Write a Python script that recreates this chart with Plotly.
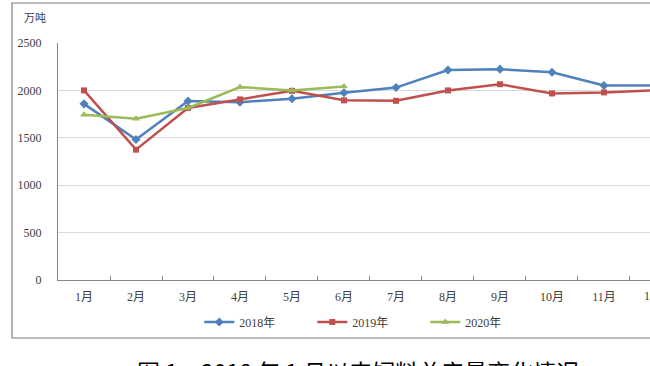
import plotly.graph_objects as go

months = ["1月", "2月", "3月", "4月", "5月", "6月", "7月", "8月", "9月", "10月", "11月", "12月"]
y2018 = [1858, 1482, 1887, 1876, 1912, 1975, 2030, 2215, 2224, 2192, 2052, 2052]
y2019 = [2000, 1375, 1815, 1905, 1995, 1895, 1890, 2000, 2065, 1968, 1979, 2003]
y2020 = [1744, 1702, 1814, 2035, 2000, 2040]
yticks = [0, 500, 1000, 1500, 2000, 2500]

FONT = "Liberation Serif, Noto Sans CJK SC, serif"

fig = go.Figure()
fig.add_trace(go.Scatter(x=months, y=y2018, name="2018年", mode="lines+markers",
                         line=dict(color="#4f81bd", width=2.5),
                         marker=dict(symbol="diamond", size=7, color="#4f81bd")))
fig.add_trace(go.Scatter(x=months, y=y2019, name="2019年", mode="lines+markers",
                         line=dict(color="#c0504d", width=2.5),
                         marker=dict(symbol="square", size=6, color="#c0504d")))
fig.add_trace(go.Scatter(x=months[:len(y2020)], y=y2020, name="2020年", mode="lines+markers",
                         line=dict(color="#9bbb59", width=2.5),
                         marker=dict(symbol="triangle-up", size=7, color="#9bbb59")))

fig.update_layout(
    width=650, height=366,
    margin=dict(l=58, r=0, t=43, b=86),
    paper_bgcolor="white", plot_bgcolor="white",
    font=dict(family=FONT, size=12, color="#404040"),
    showlegend=True,
    legend=dict(orientation="h", x=0.525, y=-0.177, xanchor="center", yanchor="middle",
                font=dict(size=12, color="#404040"), entrywidth=68, itemwidth=30),
    xaxis=dict(type="category", categoryorder="array", categoryarray=months,
               range=[-0.5, 10.885], showline=True, linecolor="#868686", linewidth=1,
               ticks="inside", ticklen=4, tickcolor="#868686", tickson="boundaries",
               showgrid=False, tickfont=dict(size=12, family=FONT, color="#404040"),
               ticklabelstandoff=6),
    yaxis=dict(range=[0, 2500], tickvals=yticks, showline=True, linecolor="#868686",
               linewidth=1, gridcolor="#d9d9d9", gridwidth=1, zeroline=False,
               tickfont=dict(size=12, family=FONT, color="#404040"),
               ticklabelstandoff=13),
)

fig.add_annotation(text="12月", xref="paper", yref="paper", x=(656 - 58) / 592, y=(280 - 296) / 237,
                   showarrow=False, xanchor="center", yanchor="middle",
                   font=dict(size=12, family=FONT, color="#404040"))
fig.add_annotation(text="万吨", xref="paper", yref="paper", x=(35 - 58) / 592, y=(280 - 17) / 237,
                   showarrow=False, xanchor="center", yanchor="middle",
                   font=dict(size=11, family="Noto Sans CJK SC", color="#404040"))
fig.add_annotation(text="图 1　2018 年 1 月以来饲料总产量变化情况<span style='font-size:11px;color:#999'>↵</span>",
                   xref="paper", yref="paper", x=(135 - 58) / 592, y=(280 - 352) / 237,
                   showarrow=False, xanchor="left", yanchor="top",
                   font=dict(size=23, family="Noto Sans CJK SC", color="#000000"))

fig.add_shape(type="rect", xref="paper", yref="paper",
              x0=(12 - 58) / 592, x1=1.2, y0=(280 - 338) / 237, y1=(280 - 3) / 237,
              line=dict(color="#7f7f7f", width=1.2), fillcolor="rgba(0,0,0,0)", layer="below")

fig.write_html("out.html", config={"displayModeBar": False},
               post_script="document.body.style.margin='0';document.body.style.overflow='hidden';")
